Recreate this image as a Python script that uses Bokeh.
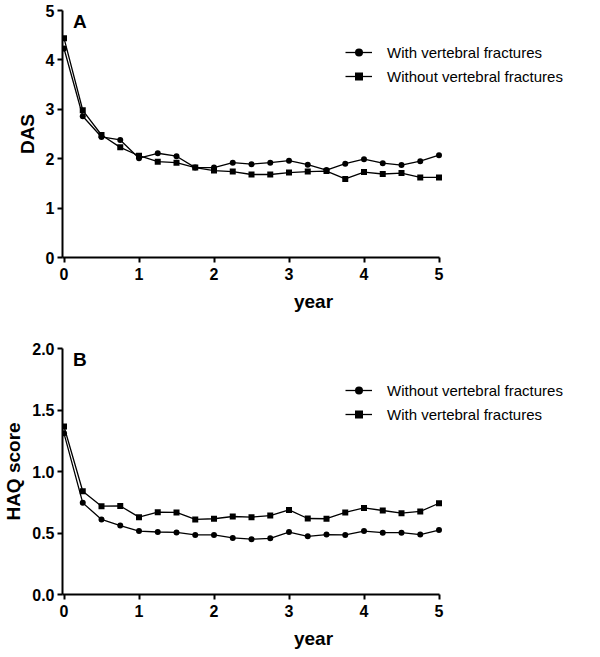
from bokeh.plotting import figure
from bokeh.models import Legend, LegendItem, Label, FixedTicker, Range1d, NumeralTickFormatter
from bokeh.layouts import column
from bokeh.embed import file_html
from bokeh.resources import INLINE

# ---- data ----
years = [0, 0.25, 0.5, 0.75, 1, 1.25, 1.5, 1.75, 2, 2.25, 2.5, 2.75, 3,
         3.25, 3.5, 3.75, 4, 4.25, 4.5, 4.75, 5]

das_with = [4.23, 2.86, 2.44, 2.38, 2.01, 2.11, 2.05, 1.82, 1.82, 1.92, 1.89,
            1.92, 1.96, 1.88, 1.77, 1.90, 1.99, 1.91, 1.87, 1.95, 2.07]
das_without = [4.44, 2.98, 2.48, 2.23, 2.06, 1.94, 1.92, 1.82, 1.76, 1.74, 1.68,
               1.68, 1.72, 1.74, 1.75, 1.59, 1.73, 1.69, 1.71, 1.62, 1.62]

haq_without = [1.31, 0.745, 0.61, 0.56, 0.516, 0.508, 0.505, 0.484, 0.484, 0.46,
               0.45, 0.457, 0.508, 0.473, 0.487, 0.484, 0.516, 0.503, 0.503, 0.487, 0.524]
haq_with = [1.366, 0.839, 0.718, 0.72, 0.629, 0.669, 0.667, 0.61, 0.616, 0.634,
            0.629, 0.642, 0.688, 0.618, 0.616, 0.667, 0.704, 0.683, 0.661, 0.675, 0.742]

x_ticks = [0, 1, 2, 3, 4, 5]
das_ticks = [0, 1, 2, 3, 4, 5]
haq_ticks = [0, 0.5, 1.0, 1.5, 2.0]

FONT = "Liberation Sans"
W = 584
BL, BR = 62, 20
PX_PER_YEAR = 75.0
X0 = -0.02
X1 = X0 + (W - BL - BR) / PX_PER_YEAR


def make_panel(height, top, bottom, y_end, y_ticks, ylabel, letter, series, fmt):
    p = figure(width=W, height=height, output_backend="svg", toolbar_location=None,
               x_range=Range1d(X0, X1), y_range=Range1d(0, y_end),
               min_border_left=BL, min_border_right=BR,
               min_border_top=top, min_border_bottom=bottom)
    p.outline_line_color = None
    p.xgrid.visible = False
    p.ygrid.visible = False
    p.background_fill_color = "white"
    p.border_fill_color = "white"

    for ax in (p.xaxis[0], p.yaxis[0]):
        ax.axis_line_width = 2
        ax.axis_line_color = "black"
        ax.major_tick_line_width = 2
        ax.major_tick_line_color = "black"
        ax.major_tick_out = 5
        ax.major_tick_in = 0
        ax.minor_tick_line_color = None
        ax.major_label_text_font = FONT
        ax.major_label_text_font_style = "bold"
        ax.major_label_text_font_size = "16px"
        ax.major_label_text_color = "black"
        ax.axis_label_text_font = FONT
        ax.axis_label_text_font_style = "bold"
        ax.axis_label_text_font_size = "19px"
        ax.axis_label_text_color = "black"

    p.xaxis[0].ticker = FixedTicker(ticks=x_ticks)
    p.xaxis[0].bounds = (X0, 5)
    p.xaxis[0].axis_label = "year"
    p.xaxis[0].major_label_standoff = 5
    p.xaxis[0].axis_label_standoff = 8

    p.yaxis[0].ticker = FixedTicker(ticks=y_ticks)
    p.yaxis[0].axis_label = ylabel
    p.yaxis[0].major_label_standoff = 3
    p.yaxis[0].axis_label_standoff = 5
    if fmt:
        p.yaxis[0].formatter = NumeralTickFormatter(format=fmt)

    items = []
    for name, vals, marker, size in series:
        r1 = p.line(years, vals, line_color="black", line_width=1.3)
        r2 = p.scatter(years, vals, marker=marker, size=size,
                       fill_color="black", line_color=None)
        items.append(LegendItem(label=name, renderers=[r1, r2]))

    frame_h = height - top - bottom
    legend = Legend(items=items, location=(283, frame_h - 32 - 44),
                    orientation="vertical",
                    glyph_width=27, glyph_height=20, label_height=20,
                    spacing=4, padding=0, margin=0, label_standoff=15,
                    label_text_font=FONT, label_text_font_size="15px",
                    label_text_color="black",
                    border_line_color=None, background_fill_alpha=0)
    p.add_layout(legend, "center")

    p.add_layout(Label(x=0.12, y=y_end, text=letter, text_baseline="top",
                       text_font=FONT, text_font_style="bold",
                       text_font_size="19px", text_color="black"))
    return p


pA = make_panel(317, 10, 60, 5, das_ticks, "DAS", "A",
                [("With vertebral fractures", das_with, "circle", 6),
                 ("Without vertebral fractures", das_without, "square", 6)],
                None)
pB = make_panel(334, 31, 57, 2.0, haq_ticks, "HAQ score", "B",
                [("Without vertebral fractures", haq_without, "circle", 6),
                 ("With vertebral fractures", haq_with, "square", 6)],
                "0.0")

layout = column(pA, pB, spacing=0)
open("out.html", "w").write(file_html(layout, INLINE))
